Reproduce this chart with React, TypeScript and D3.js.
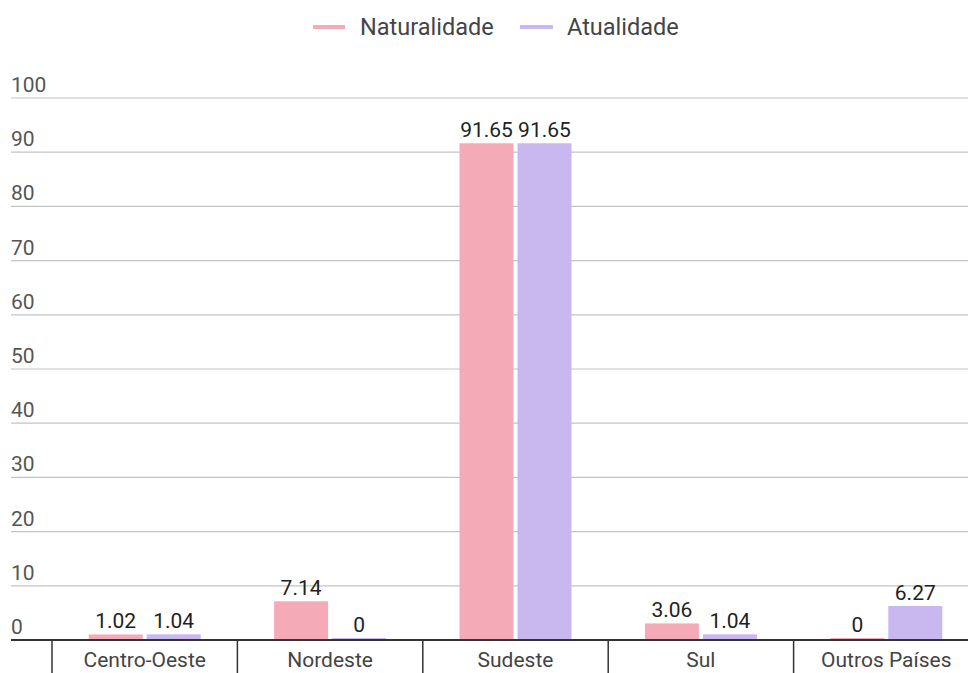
import React from "react";
import * as d3 from "d3";

const regions = ["Centro-Oeste", "Nordeste", "Sudeste", "Sul", "Outros Países"];
const seriesNames = ["Naturalidade", "Atualidade"];
const naturalidade = [1.02, 7.14, 91.65, 3.06, 0];
const atualidade = [1.04, 0, 91.65, 1.04, 6.27];
const yTicks = [0, 10, 20, 30, 40, 50, 60, 70, 80, 90, 100];
const colors = ["#f5aab8", "#c9b7ef"];

const W = 968;
const H = 673;
const FONT = "Roboto, 'Noto Sans', sans-serif";

export default function App() {
  const seriesValues = [naturalidade, atualidade];
  const y = d3.scaleLinear().domain([0, 100]).range([640, 98]);
  const x0 = d3.scaleBand<string>().domain(regions).range([52, 979]).padding(0);
  const x1 = d3
    .scaleBand<string>()
    .domain(seriesNames)
    .range([0, x0.bandwidth()])
    .paddingInner(0.069)
    .paddingOuter(0.633);

  const boundaries = regions.map((r) => x0(r) as number);

  return (
    <svg
      width={W}
      height={H}
      style={{ display: "block", background: "#fff", position: "fixed", top: 0, left: 0 }}
    >
      {/* legend */}
      <g fontFamily={FONT} fontSize={23.5} fill="#444">
        <line x1={313} x2={345} y1={27} y2={27} stroke={colors[0]} strokeWidth={4} />
        <text x={360} y={35}>{seriesNames[0]}</text>
        <line x1={520} x2={553} y1={27} y2={27} stroke={colors[1]} strokeWidth={4} />
        <text x={567} y={35}>{seriesNames[1]}</text>
      </g>

      {/* gridlines and y labels */}
      <g fontFamily={FONT} fontSize={21} fill="#555">
        {yTicks.map((t) => (
          <g key={t}>
            {t > 0 && (
              <line x1={11} x2={W} y1={y(t)} y2={y(t)} stroke="#c4c4c4" strokeWidth={1.2} />
            )}
            <text x={11} y={y(t) - 6}>{t}</text>
          </g>
        ))}
      </g>

      {/* bars */}
      {regions.map((r, i) => (
        <g key={r} transform={`translate(${x0(r)},0)`}>
          {seriesNames.map((s, j) => {
            const v = seriesValues[j][i];
            const top = Math.min(y(v), y(0) - 2);
            const bx = x1(s) as number;
            return (
              <g key={s}>
                <rect
                  x={bx}
                  y={top}
                  width={x1.bandwidth()}
                  height={y(0) - top}
                  fill={colors[j]}
                />
                <text
                  x={bx + x1.bandwidth() / 2}
                  y={top - 6}
                  textAnchor="middle"
                  fontFamily={FONT}
                  fontSize={21}
                  fill="#222"
                >
                  {v}
                </text>
              </g>
            );
          })}
        </g>
      ))}

      {/* x axis */}
      <line x1={11} x2={W} y1={y(0)} y2={y(0)} stroke="#333" strokeWidth={2} />
      {boundaries.map((b, i) => (
        <line key={i} x1={b} x2={b} y1={y(0)} y2={H} stroke="#333" strokeWidth={1.5} />
      ))}
      <g fontFamily={FONT} fontSize={21} fill="#444">
        {regions.map((r) => (
          <text
            key={r}
            x={(x0(r) as number) + x0.bandwidth() / 2}
            y={667}
            textAnchor="middle"
          >
            {r}
          </text>
        ))}
      </g>
    </svg>
  );
}
